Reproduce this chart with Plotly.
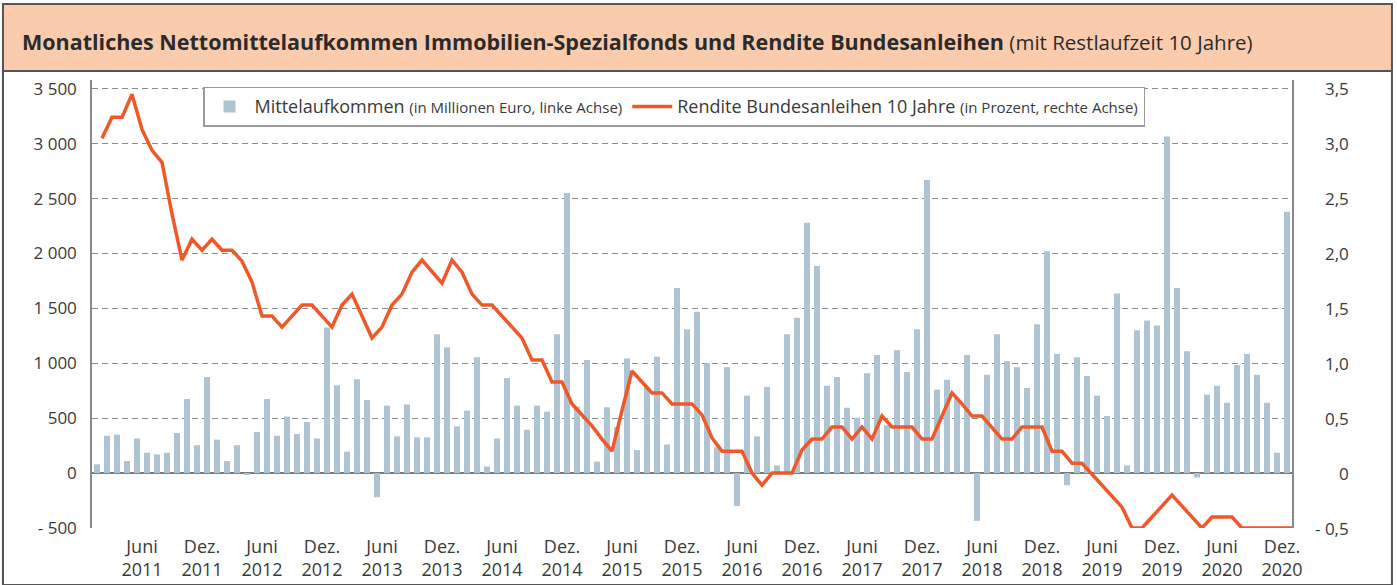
import plotly.graph_objects as go

# Monatliches Nettomittelaufkommen (Mio. Euro), Jan 2011 - Dez 2020
mittelaufkommen = [
    80, 340, 350, 110, 315, 185, 170, 185, 365, 675, 255, 875,
    305, 110, 255, -15, 375, 675, 340, 515, 355, 465, 315, 1325,
    800, 195, 855, 665, -220, 615, 335, 625, 325, 325, 1265, 1145,
    425, 570, 1055, 60, 315, 865, 615, 395, 615, 560, 1265, 2550,
    605, 1030, 105, 600, 420, 1045, 210, 785, 1060, 260, 1685, 1310,
    1470, 1000, 235, 965, -300, 705, 335, 785, 70, 1265, 1415, 2280,
    1885, 795, 875, 595, 505, 910, 1075, 435, 1120, 920, 1310, 2670,
    760, 850, 680, 1075, -435, 895, 1265, 1020, 965, 775, 1355, 2020,
    1085, -110, 1055, 885, 705, 520, 1635, 70, 1300, 1390, 1345, 3065,
    1685, 1110, -40, 715, 795, 640, 985, 1085, 895, 640, 185, 2380,
]

# Rendite Bundesanleihen 10 Jahre (Prozent), Monatsende
rendite = [
    3.05, 3.24, 3.24, 3.45, 3.13, 2.94, 2.83, 2.36, 1.94, 2.13, 2.03, 2.13,
    2.03, 2.03, 1.93, 1.74, 1.43, 1.43, 1.33, 1.43, 1.53, 1.53, 1.43, 1.33,
    1.53, 1.63, 1.43, 1.23, 1.33, 1.53, 1.63, 1.83, 1.94, 1.83, 1.73, 1.94,
    1.83, 1.63, 1.53, 1.53, 1.43, 1.33, 1.23, 1.03, 1.03, 0.83, 0.83, 0.63,
    0.53, 0.43, 0.31, 0.20, 0.57, 0.93, 0.83, 0.73, 0.73, 0.63, 0.63, 0.63,
    0.53, 0.32, 0.20, 0.20, 0.20, 0.00, -0.11, 0.00, 0.00, 0.00, 0.21, 0.31,
    0.31, 0.42, 0.42, 0.31, 0.42, 0.31, 0.52, 0.42, 0.42, 0.42, 0.31, 0.31,
    0.52, 0.73, 0.63, 0.52, 0.52, 0.42, 0.31, 0.31, 0.42, 0.42, 0.42, 0.20,
    0.20, 0.09, 0.09, -0.01, -0.11, -0.21, -0.31, -0.50, -0.50, -0.40, -0.30, -0.20,
    -0.30, -0.40, -0.50, -0.40, -0.40, -0.40, -0.50, -0.50, -0.50, -0.50, -0.50, -0.50,
]

years = list(range(2011, 2021))
tick_months = ["Juni", "Dez."]
tick_month_idx = [5, 11]

left_ticks = [-500, 0, 500, 1000, 1500, 2000, 2500, 3000, 3500]
left_labels = ["- 500", "0", "500", "1 000", "1 500", "2 000", "2 500", "3 000", "3 500"]
right_ticks = [-0.5, 0, 0.5, 1.0, 1.5, 2.0, 2.5, 3.0, 3.5]
right_labels = ["- 0,5", "0", "0,5", "1,0", "1,5", "2,0", "2,5", "3,0", "3,5"]

BAR = "#afc4d2"
LINE = "#f0582a"
GRID = "#8c8c8c"
TXT = "#3a3a3a"
FONT = "Open Sans"

n = len(mittelaufkommen)
tickvals, ticktext = [], []
for k, y in enumerate(years):
    for m, idx in zip(tick_months, tick_month_idx):
        tickvals.append(k * 12 + idx)
        ticktext.append(f"{m}<br>{y}")

fig = go.Figure()
fig.add_trace(go.Bar(
    x=[i + 0.5 for i in range(n)],
    y=mittelaufkommen,
    marker_color=BAR,
    marker_line_width=0,
    name="Mittelaufkommen <span style='font-size:15px'>(in Millionen Euro, linke Achse)</span>",
))
fig.add_trace(go.Scatter(
    x=[i + 1 for i in range(n)],
    y=rendite,
    mode="lines",
    line=dict(color=LINE, width=3.5),
    yaxis="y2",
    name="Rendite Bundesanleihen 10 Jahre <span style='font-size:15px'>(in Prozent, rechte Achse)</span>",
))

# right axis labels, right-aligned like the original
for v, t in zip(right_ticks, right_labels):
    fig.add_annotation(x=1.049, y=v, xref="paper", yref="y2", text=t, showarrow=False,
                       xanchor="right", yanchor="middle", font=dict(size=17, color=TXT, family=FONT))

# title band and frame
fig.add_shape(type="rect", xref="paper", yref="paper", x0=-0.0742, x1=1.0833, y0=1.0201, y1=1.1696,
              fillcolor="#fbcbae", line=dict(color="#555555", width=2), layer="below")
fig.add_shape(type="rect", xref="paper", yref="paper", x0=-0.0742, x1=1.0833, y0=-0.127, y1=1.0201,
              fillcolor="rgba(0,0,0,0)", line=dict(color="#555555", width=2))
fig.add_annotation(
    x=-0.0600, y=1.0850, xref="paper", yref="paper", xanchor="left", yanchor="middle", showarrow=False,
    text="<b>Monatliches Nettomittelaufkommen Immobilien-Spezialfonds und Rendite Bundesanleihen</b>"
         " <span style='font-size:20.5px'>(mit Restlaufzeit 10 Jahre)</span>",
    font=dict(size=21.5, color="#2b2b2b", family=FONT),
)

fig.update_layout(
    width=1397, height=585,
    margin=dict(l=92, r=105, t=80, b=57),
    paper_bgcolor="white", plot_bgcolor="white",
    font=dict(family=FONT, color=TXT, size=17),
    bargap=0.4,
    showlegend=True,
    legend=dict(
        orientation="h", x=0.0925, y=0.985, xanchor="left", yanchor="top",
        bgcolor="white", bordercolor="#9a9a9a", borderwidth=1.5,
        font=dict(size=18, color=TXT, family=FONT),
        itemwidth=40,
    ),
    xaxis=dict(
        range=[0, n], tickvals=tickvals, ticktext=ticktext, ticks="",
        showgrid=False, zeroline=False, showline=False, automargin=False,
        ticklabelstandoff=6, tickfont=dict(size=18, color=TXT),
    ),
    yaxis=dict(
        range=[-500, 3580], tickvals=left_ticks, ticktext=left_labels,
        showgrid=True, gridcolor=GRID, griddash="6px,4px", gridwidth=1,
        zeroline=True, zerolinecolor="#7a7a7a", zerolinewidth=1.5,
        showline=True, linecolor="#8a8a8a", linewidth=1.5, automargin=False,
        ticks="", ticklabelstandoff=10, tickfont=dict(size=17, color=TXT),
    ),
    yaxis2=dict(
        range=[-0.5, 3.58], overlaying="y", side="right", automargin=False,
        showgrid=False, zeroline=False, showticklabels=False,
        showline=True, linecolor="#8a8a8a", linewidth=1.5, ticks="",
    ),
)

# drop the browser's default 8px body margin so the figure sits at the page corner
fig.write_html("out.html", config={"displayModeBar": False},
               post_script="document.body.style.margin='0';")
